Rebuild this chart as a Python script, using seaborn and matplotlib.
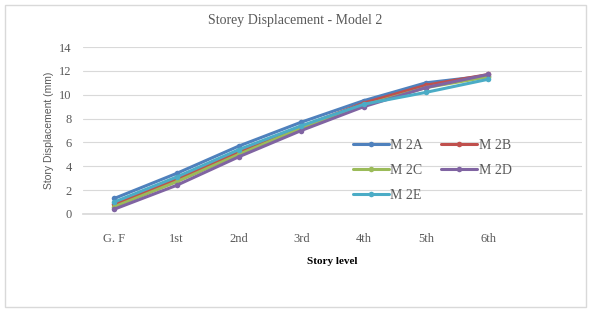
import matplotlib
matplotlib.use("Agg")
import matplotlib.pyplot as plt
import seaborn as sns
import pandas as pd
from matplotlib.patches import Rectangle

levels = ["G. F", "1st", "2nd", "3rd", "4th", "5th", "6th"]
series_names = ["M 2A", "M 2B", "M 2C", "M 2D", "M 2E"]
m2a = [1.3, 3.4, 5.7, 7.7, 9.5, 11.0, 11.6]
m2b = [0.8, 2.9, 5.2, 7.3, 9.3, 10.8, 11.7]
m2c = [0.6, 2.7, 5.0, 7.2, 9.1, 10.6, 11.5]
m2d = [0.4, 2.4, 4.8, 7.0, 9.0, 10.6, 11.7]
m2e = [1.0, 3.1, 5.4, 7.4, 9.2, 10.2, 11.3]
colors = ["#4F81BD", "#C0504D", "#9BBB59", "#8064A2", "#4BACC6"]

rows = []
for name, vals in zip(series_names, [m2a, m2b, m2c, m2d, m2e]):
    for i, v in enumerate(vals):
        rows.append({"level": i, "disp": v, "series": name})
df = pd.DataFrame(rows)

sns.set_theme(style="white")
plt.rcParams["font.family"] = ["Liberation Serif", "DejaVu Serif"]

fig = plt.figure(figsize=(5.91, 3.13), dpi=100)
fig.patches.append(Rectangle((0.008, 0.02), 0.984, 0.965, transform=fig.transFigure,
                             fill=False, edgecolor="#D9D9D9", linewidth=1))
ax = fig.add_axes([0.1404, 0.3163, 0.8444, 0.5335])

sns.lineplot(data=df, x="level", y="disp", hue="series", palette=colors,
             marker="o", markersize=4, linewidth=2.2, markeredgewidth=0, ax=ax)

ax.set_xlim(-0.5, 7.5)
ax.set_ylim(0, 14)
ax.set_yticks(range(0, 15, 2))
ax.set_xticks(range(8))
ax.set_xticklabels(levels + [""])
ax.grid(axis="y", color="#D9D9D9", linewidth=0.8)
for s in ["top", "right", "left"]:
    ax.spines[s].set_visible(False)
ax.spines["bottom"].set_color("#D9D9D9")
ax.tick_params(axis="both", length=0, labelsize=9, colors="#595959", pad=8)
ax.tick_params(axis="x", pad=14)

ax.set_xlabel("Story level", fontsize=8, fontweight="bold", color="#000000", labelpad=8)
ax.set_ylabel("Story Displacement (mm)", fontsize=7.5, color="#595959",
              family=["Liberation Sans", "DejaVu Sans"], labelpad=4)
fig.text(0.5, 0.935, "Storey Displacement - Model 2", ha="center", va="center",
         fontsize=10, color="#595959")

handles, labels = ax.get_legend_handles_labels()
order = [0, 2, 4, 1, 3]
leg = ax.legend([handles[i] for i in order], [labels[i] for i in order],
                loc="center", bbox_to_anchor=(0.70, 0.26), ncol=2, frameon=False,
                fontsize=10, handlelength=2.6, columnspacing=1.3, labelspacing=0.85,
                handletextpad=0.1)
for t in leg.get_texts():
    t.set_color("#595959")

fig.savefig("out.png", dpi=100)
